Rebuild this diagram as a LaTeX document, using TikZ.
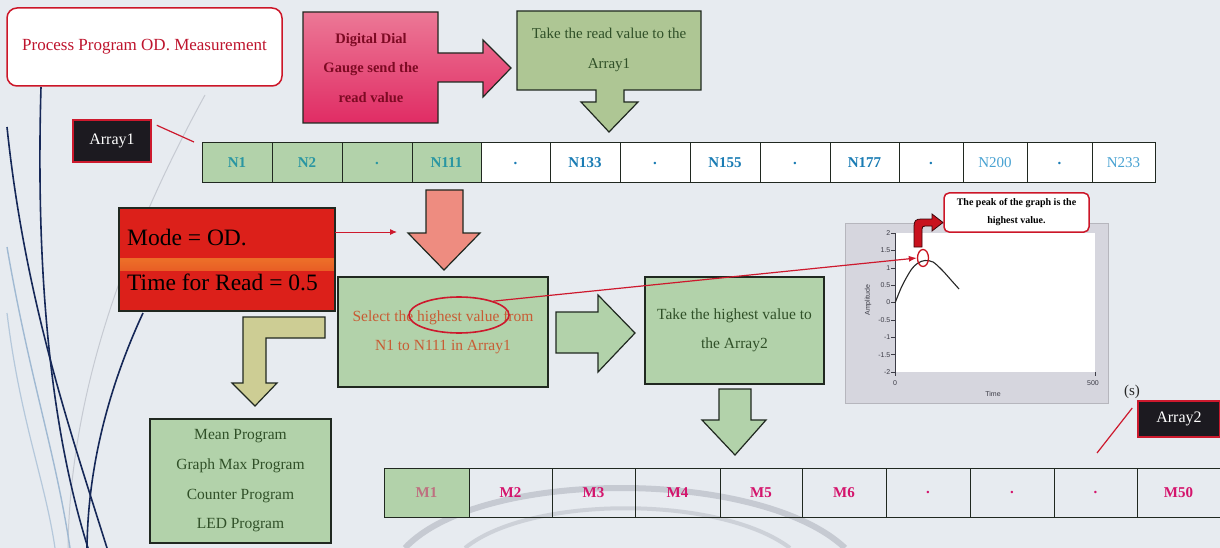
\documentclass[tikz,border=0pt]{standalone}
\usepackage{fontspec}
\setmainfont{Liberation Serif}
\newfontfamily\gsans{Liberation Sans}
\usetikzlibrary{shapes.geometric,arrows.meta,calc}
\definecolor{bgc}{RGB}{231,235,240}
\definecolor{navy}{RGB}{22,40,88}
\definecolor{lblue}{RGB}{160,185,210}
\definecolor{lgray}{RGB}{198,202,210}
\definecolor{titlered}{RGB}{204,22,40}
\definecolor{titletext}{RGB}{190,20,45}
\definecolor{connred}{RGB}{205,25,45}
\definecolor{ddtop}{RGB}{236,120,150}
\definecolor{ddbot}{RGB}{224,44,100}
\definecolor{ddtext}{RGB}{125,10,35}
\definecolor{greenA}{RGB}{174,198,148}
\definecolor{greenB}{RGB}{178,210,170}
\definecolor{khaki}{RGB}{205,205,148}
\definecolor{salmon}{RGB}{238,140,128}
\definecolor{modered}{RGB}{220,32,26}
\definecolor{modeorange}{RGB}{236,110,40}
\definecolor{boxline}{RGB}{32,40,32}
\definecolor{dgreen}{RGB}{48,80,40}
\definecolor{seltext}{RGB}{200,92,52}
\definecolor{labfill}{RGB}{28,26,32}
\definecolor{nteal}{RGB}{42,150,162}
\definecolor{nblue}{RGB}{26,124,180}
\definecolor{nlight}{RGB}{72,162,210}
\definecolor{mmag}{RGB}{212,20,108}
\definecolor{mrose}{RGB}{190,112,128}
\definecolor{panel}{RGB}{214,214,222}
\definecolor{peakred}{RGB}{200,18,30}
\definecolor{graytext}{RGB}{60,60,70}
\begin{document}
\begin{tikzpicture}[x=1pt,y=-1pt,
  box/.style={draw=boxline, line width=1.1pt, inner sep=0pt, outer sep=0pt},
  cell/.style={draw=boxline, line width=1pt, inner sep=0pt, outer sep=0pt},
  blockarrow/.style={draw=boxline, line width=1.2pt, line join=miter},
  redconn/.style={draw=connred, line width=1.2pt},
  lab/.style={fill=labfill, draw=connred, line width=1.5pt, text=white, font=\fontsize{16}{18}\selectfont, inner sep=0pt},
  deco/.style={line width=1.6pt, draw=navy},
  gtick/.style={font=\gsans\fontsize{7}{8}\selectfont, text=graytext, inner sep=0.5pt}
]
\useasboundingbox (0,0) rectangle (1220,548);
\fill[bgc] (0,0) rectangle (1220,548);

% background decorations
\draw[lgray, line width=1pt] (205,95) .. controls (120,250) and (70,400) .. (68,548);
\draw[lblue, line width=1.4pt] (7,247) .. controls (30,380) and (55,450) .. (70,548);
\draw[lblue!70!bgc, line width=1.2pt] (7,313) .. controls (20,420) and (45,480) .. (55,548);
\draw[deco] (41,87) .. controls (36,260) and (48,420) .. (88,548);
\draw[deco] (7,127) .. controls (25,300) and (70,430) .. (107,548);
\draw[deco] (143,313) .. controls (112,380) and (88,460) .. (87,548);
\draw[lgray, line width=6pt] (405,548) .. controls (480,468) and (760,468) .. (845,548);
\draw[lgray!80!bgc, line width=4pt] (465,548) .. controls (530,495) and (720,495) .. (790,548);

% title
\node[draw=titlered, line width=1.5pt, rounded corners=10pt, fill=white,
  minimum width=275, minimum height=78, inner sep=0pt,
  font=\fontsize{17}{20}\selectfont, text=titletext] (title) at (144.5,47) {Process Program OD. Measurement};

% digital dial callout arrow
\path[blockarrow, top color=ddtop, bottom color=ddbot, shading angle=0]
  (303,12) -- (438,12) -- (438,53) -- (483,53) -- (483,40) -- (511,68) -- (483,97)
  -- (483,82) -- (438,82) -- (438,123) -- (303,123) -- cycle;
\node[font=\fontsize{14.5}{29.5}\selectfont\bfseries, text=ddtext, align=center] (dd) at (371,68)
  {Digital Dial\\Gauge send the\\read value};

% take read value callout
\path[blockarrow, fill=greenA]
  (517,11) -- (701,11) -- (701,90) -- (624,90) -- (624,102) -- (638,102) -- (609,132)
  -- (581,102) -- (596,102) -- (596,90) -- (517,90) -- cycle;
\node[font=\fontsize{15}{30}\selectfont, text=dgreen, align=center] (trv) at (609,50)
  {Take the read value to the\\Array1};

% Array1 label
\node[lab, minimum width=78, minimum height=42] (lab1) at (112,141) {Array1};

% Array1 cells
\foreach \l/\r/\t/\c/\f/\w [count=\i] in {
202/272/N1/nteal/greenB/\bfseries,
272/342/N2/nteal/greenB/\bfseries,
342/412/./nteal/greenB/\bfseries,
412/481/N111/nteal/greenB/\bfseries,
481/550/./nblue/white/\bfseries,
550/620/N133/nblue/white/\bfseries,
620/690/./nblue/white/\bfseries,
690/760/N155/nblue/white/\bfseries,
760/830/./nblue/white/\bfseries,
830/899/N177/nblue/white/\bfseries,
899/963/./nblue/white/\bfseries,
963/1027/N200/nlight/white/\mdseries,
1027/1092/./nblue/white/\bfseries,
1092/1155/N233/nlight/white/\mdseries}
{\node[cell, fill=\f, text=\c, font=\fontsize{15}{18}\selectfont\w,
   minimum width={\r-\l}, minimum height=40] (a\i) at ({(\l+\r)/2},163) {\t};}

\draw[redconn] ($(lab1.north east)+(5,6)$) -- ($(a1.north west)+(-8,-1)$);

% Mode box
\node[box, fill=modered, minimum width=216, minimum height=103,
  path picture={\shade[top color=modered, bottom color=modered, middle color=modeorange]
    ($(path picture bounding box.west)+(0,-1)$) rectangle ($(path picture bounding box.east)+(0,11)$);}]
  (mode) at (227,259.5) {};
\node[anchor=west, align=left, inner sep=0pt, font=\fontsize{23.5}{45}\selectfont, text=black]
  (modetxt) at ($(mode.west)+(8,1)$) {Mode = OD.\\Time for Read = 0.5};

% salmon arrow
\path[blockarrow, fill=salmon]
  (426,190) -- (463,190) -- (463,233) -- (480,233) -- (444,270) -- (408,233) -- (426,233) -- cycle;
\coordinate (mtip) at (397,232);
\draw[redconn, line width=1pt, -{Latex[length=7pt,width=6pt]}] (mode.east |- mtip) -- (mtip);

% khaki L arrow
\path[blockarrow, fill=khaki]
  (325,317) -- (325,338) -- (266,338) -- (266,383) -- (277,383) -- (255,406) -- (232,383)
  -- (243,383) -- (243,317) -- cycle;

% programs box
\node[box, fill=greenB, minimum width=181, minimum height=124, align=center,
  font=\fontsize{15.5}{29.7}\selectfont, text=dgreen] (prog) at (240.5,481)
  {Mean Program\\Graph Max Program\\Counter Program\\LED Program};

% select box
\node[box, fill=greenB, minimum width=210, minimum height=110, align=center,
  font=\fontsize{15.5}{29}\selectfont, text=seltext] (sel) at (443,332)
  {Select the highest value from\\N1 to N111 in Array1};
\node[ellipse, draw=connred, line width=1.6pt, minimum width=100, minimum height=36, inner sep=0pt] (hl) at (459,315) {};

% right arrow
\path[blockarrow, fill=greenB]
  (556,312) -- (598,312) -- (598,295) -- (635,333) -- (598,372) -- (598,353) -- (556,353) -- cycle;

% take highest box
\node[box, fill=greenB, minimum width=179, minimum height=107, align=center,
  font=\fontsize{15.5}{29}\selectfont, text=dgreen] (th) at (734.5,330.5)
  {Take the highest value to\\the Array2};

% down arrow
\path[blockarrow, fill=greenB]
  (719,389) -- (751,389) -- (751,420) -- (766,420) -- (735,455) -- (702,420) -- (719,420) -- cycle;

% graph
\draw[fill=panel, draw=panel!85!black, line width=0.6pt] (845,223) rectangle (1108,403);
\fill[white] (895,233) rectangle (1095,372);
\draw[graytext, line width=0.7pt] (895,233) -- (895,376);
\draw[graytext, line width=0.7pt] (1095,372) -- (1095,376);
\foreach \v in {2,1.5,1,0.5,0,-0.5,-1,-1.5,-2}{
  \draw[graytext, line width=0.5pt] (891,{302.5-\v*34.75}) -- (895,{302.5-\v*34.75});
  \node[gtick, anchor=east] at (891,{302.5-\v*34.75}) {\v};
}
\node[gtick] at (895,383) {0};
\node[gtick] at (1093,383) {500};
\node[gtick] at (993,394) {Time};
\node[gtick, rotate=90] at (868,300) {Amplitude};
\draw[line width=1.1pt, black!85] plot[smooth] coordinates
  {(895,303) (902,286) (911,270) (918,263) (925,260.5) (933,262) (942,270) (951,280) (959,289)};
\node[ellipse, draw=peakred, line width=1.3pt, minimum width=11, minimum height=17, inner sep=0pt] (pk) at (923,258) {};

% bent arrow to callout
\path[fill=peakred, draw=black!70!peakred, line width=0.8pt, line join=miter]
  (914,247) -- (914,226) .. controls (914,221) and (916,219) .. (921,219) -- (932,219)
  -- (932,214) -- (943,222.5) -- (932,231) -- (932,226) -- (925,226)
  .. controls (923,226) and (922,227) .. (922,229) -- (922,247) -- cycle;
\node[draw=titlered, line width=1.5pt, rounded corners=5pt, fill=white,
  minimum width=145, minimum height=39, inner sep=0pt, align=center,
  font=\fontsize{10}{18}\selectfont\bfseries] (call) at (1016.5,212.5)
  {The peak of the graph is the\\highest value.};

% connector highest value -> peak
\draw[redconn, -{Latex[length=8pt,width=6pt]}] (hl.22) -- (pk.west);

% Array2 label
\node[lab, minimum width=82, minimum height=36] (lab2) at (1179,419) {Array2};
\node[font=\fontsize{15}{18}\selectfont, text=black!85] (sunit) at (1132,392) {(s)};
\coordinate (l2end) at (1097,453);
\draw[redconn] ($(lab2.west)+(-5,-11)$) -- (l2end);

% Array2 cells
\foreach \l/\r/\t/\c/\f [count=\i] in {
384/469/M1/mrose/greenB,
469/552/M2/mmag/none,
552/635/M3/mmag/none,
635/720/M4/mmag/none,
720/802/M5/mmag/none,
802/886/M6/mmag/none,
886/970/./mmag/none,
970/1054/./mmag/none,
1054/1137/./mmag/none,
1137/1220/M50/mmag/none}
{\node[cell, fill=\f, text=\c, font=\fontsize{15}{18}\selectfont\bfseries,
   minimum width={\r-\l}, minimum height=49] (m\i) at ({(\l+\r)/2},492.5) {\t};}
\end{tikzpicture}
\end{document}
